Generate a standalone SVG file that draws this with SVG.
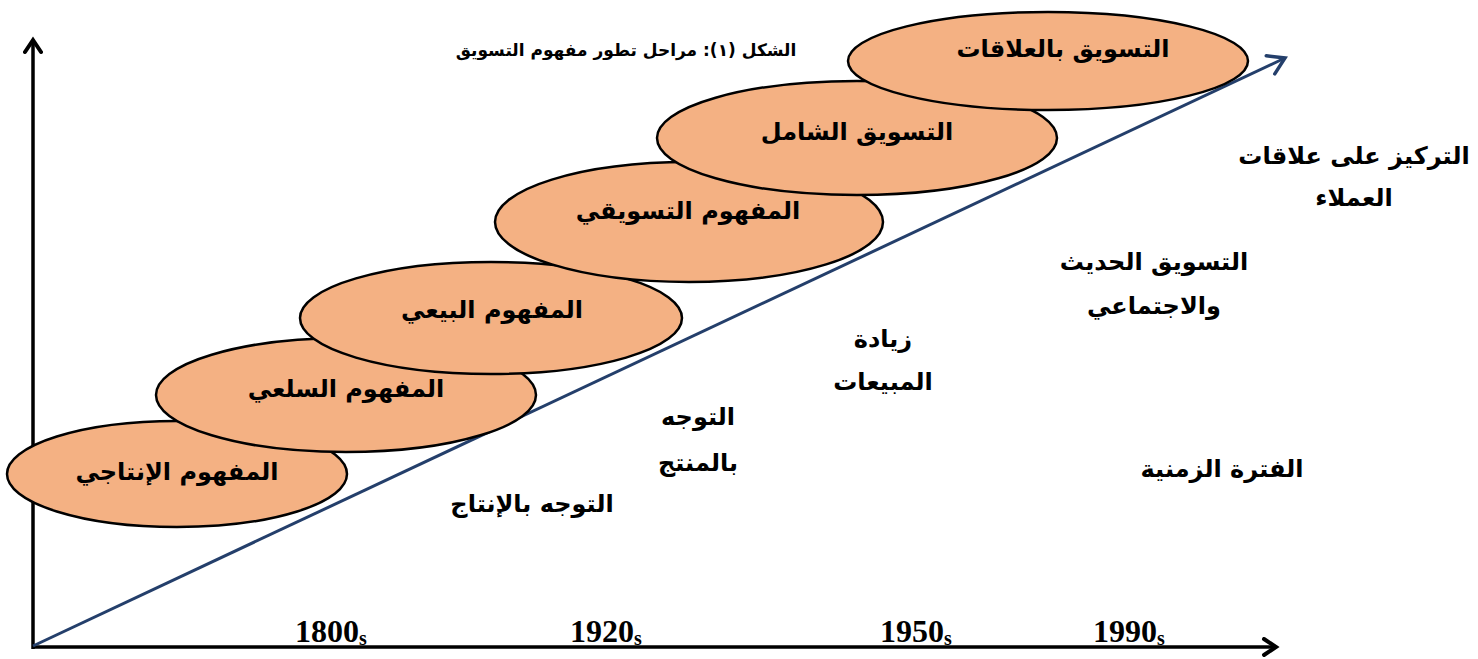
<svg xmlns="http://www.w3.org/2000/svg" width="1478" height="659" viewBox="0 0 1478 659">
<defs>
<style>
.ell{fill:#F4B183;stroke:#000;stroke-width:2.5}
.ar{font-family:"DejaVu Sans",sans-serif;font-weight:bold;fill:#000;text-anchor:middle}
.et{font-size:24px}
.lb{font-size:24px}
.yr{font-family:"Liberation Serif",serif;font-weight:bold;font-size:32px;fill:#000}
.sub{font-size:20px}
</style>
<marker id="blk" viewBox="0 0 20 20" refX="16" refY="10" markerWidth="20" markerHeight="20" markerUnits="userSpaceOnUse" orient="auto">
<path d="M4,2 L16,10 L4,18" fill="none" stroke="#000" stroke-width="4" stroke-linecap="round"/>
</marker>
<marker id="blu" viewBox="0 0 24 24" refX="20" refY="12" markerWidth="24" markerHeight="24" markerUnits="userSpaceOnUse" orient="auto">
<path d="M4,2 L20,12 L4,22" fill="none" stroke="#243F6B" stroke-width="3.5" stroke-linecap="round"/>
</marker>
</defs>
<rect width="1478" height="659" fill="#fff"/>
<g id="connectors">
<line x1="33" y1="649" x2="33" y2="40" stroke="#000" stroke-width="3.5" marker-end="url(#blk)"/>
<line x1="33" y1="647" x2="1276" y2="647" stroke="#000" stroke-width="3.5" marker-end="url(#blk)"/>
<line x1="33" y1="646" x2="1285" y2="58" stroke="#243F6B" stroke-width="3" marker-end="url(#blu)"/>
</g>
<g id="n1"><ellipse class="ell" cx="177" cy="474" rx="170" ry="53"/><text class="ar et" x="177" y="480" direction="rtl">المفهوم الإنتاجي</text></g>
<g id="n2"><ellipse class="ell" cx="346" cy="395" rx="190" ry="57"/><text class="ar et" x="346" y="397" direction="rtl">المفهوم السلعي</text></g>
<g id="n3"><ellipse class="ell" cx="491" cy="318" rx="191" ry="56"/><text class="ar et" x="492" y="318" direction="rtl">المفهوم البيعي</text></g>
<g id="n4"><ellipse class="ell" cx="689" cy="222" rx="194" ry="60"/><text class="ar et" x="688" y="219" direction="rtl">المفهوم التسويقي</text></g>
<g id="n5"><ellipse class="ell" cx="857" cy="138" rx="200" ry="57"/><text class="ar et" x="857" y="140" direction="rtl">التسويق الشامل</text></g>
<g id="n6"><ellipse class="ell" cx="1048" cy="61" rx="200" ry="49"/><text class="ar et" x="1063" y="57" direction="rtl">التسويق بالعلاقات</text></g>
<g id="title"><text class="ar" style="font-size:17px" x="626" y="56" direction="rtl">الشكل (١): مراحل تطور مفهوم التسويق</text></g>
<g id="l1"><text class="ar lb" x="1354" y="164" direction="rtl">التركيز على علاقات</text><text class="ar lb" x="1354" y="206" direction="rtl">العملاء</text></g>
<g id="l2"><text class="ar lb" x="1154" y="270" direction="rtl">التسويق الحديث</text><text class="ar lb" x="1154" y="314" direction="rtl">والاجتماعي</text></g>
<g id="l3"><text class="ar lb" x="883" y="347" direction="rtl">زيادة</text><text class="ar lb" x="883" y="390" direction="rtl">المبيعات</text></g>
<g id="l4"><text class="ar lb" x="698" y="425" direction="rtl">التوجه</text><text class="ar lb" x="698" y="471" direction="rtl">بالمنتج</text></g>
<g id="l5"><text class="ar lb" x="532" y="512" direction="rtl">التوجه بالإنتاج</text></g>
<g id="l6"><text class="ar lb" x="1222" y="477" direction="rtl">الفترة الزمنية</text></g>
<g id="years">
<text class="yr" x="295" y="642">1800<tspan class="sub" dy="3">s</tspan></text>
<text class="yr" x="570" y="642">1920<tspan class="sub" dy="3">s</tspan></text>
<text class="yr" x="880" y="642">1950<tspan class="sub" dy="3">s</tspan></text>
<text class="yr" x="1093" y="642">1990<tspan class="sub" dy="3">s</tspan></text>
</g>
</svg>
